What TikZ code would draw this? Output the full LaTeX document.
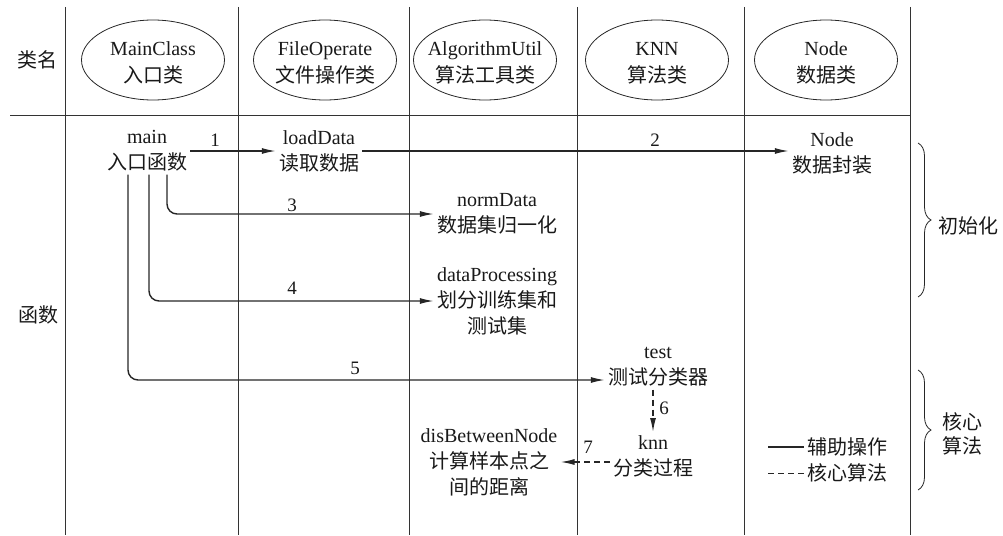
\documentclass[tikz,border=0pt]{standalone}
\usepackage{fontspec}
\setmainfont{Liberation Serif}
\newfontfamily\cjk{Noto Sans CJK SC}
\usetikzlibrary{arrows.meta,shapes.geometric,decorations.pathreplacing}
\newcommand{\zh}[1]{{\cjk #1}}
\begin{document}
\begin{tikzpicture}[x=1pt,y=-1pt,
  every node/.style={font=\fontsize{20}{26}\selectfont, text=black!90, inner sep=3pt},
  cls/.style={ellipse, draw=black!85, minimum width=143pt, minimum height=80pt, inner sep=0pt, align=center, line width=0.8pt},
  clstext/.style={align=center, font=\fontsize{20}{27}\selectfont},
  fn/.style={align=center},
  grid/.style={line width=0.9pt, draw=black!80},
  arr/.style={line width=1.4pt, draw=black!85, -{Latex[length=14pt,width=6pt]}, rounded corners=10pt},
  darr/.style={arr, dash pattern=on 6pt off 4pt},
  num/.style={font=\fontsize{19}{20}\selectfont},
  brc/.style={line width=0.8pt, draw=black!85, decorate, decoration={brace, amplitude=13pt}}
]
\useasboundingbox (0,0) rectangle (1003,535);
% grid
\foreach \x in {65,238,409,577,744,910}{\draw[grid] (\x,7) -- (\x,535);}
\draw[grid] (10,115) -- (910,115);
% row titles
\node (rowcls) at (37,60) {\zh{类名}};
\node (rowfn) at (38,315) {\zh{函数}};
% classes
\node[cls] (c1) at (153,60) {};
\node[cls] (c2) at (325,60) {};
\node[cls] (c3) at (485,60) {};
\node[cls] (c4) at (657,60) {};
\node[cls] (c5) at (826,60) {};
\node[clstext] (t1) at (c1.center) [yshift=-3pt] {MainClass\\\zh{入口类}};
\node[clstext] (t2) at (c2.center) [yshift=-3pt] {FileOperate\\\zh{文件操作类}};
\node[clstext] (t3) at (c3.center) [yshift=-3pt] {AlgorithmUtil\\\zh{算法工具类}};
\node[clstext] (t4) at (c4.center) [yshift=-3pt] {KNN\\\zh{算法类}};
\node[clstext] (t5) at (c5.center) [yshift=-3pt] {Node\\\zh{数据类}};
% functions
\node[fn] (main) at (147,151) {main\\\zh{入口函数}};
\node[fn] (load) at (319,151) {loadData\\\zh{读取数据}};
\node[fn] (nodef) at (832,153) {Node\\\zh{数据封装}};
\node[fn] (norm) at (497,214) {normData\\\zh{数据集归一化}};
\node[fn] (dp) at (497,301) {dataProcessing\\\zh{划分训练集和}\\\zh{测试集}};
\node[fn] (test) at (658,367) {test\\\zh{测试分类器}};
\node[fn] (knn) at (653,456) {knn\\\zh{分类过程}};
\node[fn] (dis) at (489,462) {disBetweenNode\\\zh{计算样本点之}\\\zh{间的距离}};
% connectors
\draw[arr] (main.east) -- (main.east -| load.west);
\draw[arr] (load.east) -- (load.east -| nodef.west);
\draw[arr] ([xshift=20pt]main.south) |- (norm.west);
\draw[arr] ([xshift=2pt]main.south) |- (dp.west);
\draw[arr] ([xshift=-19pt]main.south) |- ([yshift=-13pt]test.west);
\draw[darr] (knn.north |- test.south) -- (knn.north);
\draw[darr] ([yshift=-6pt]knn.west) -- ([yshift=-6pt]knn.west -| dis.east);
% numbers
\node[num] (n1) at (215,140) {1};
\node[num] (n2) at (655,140) {2};
\node[num] (n3) at (292,205) {3};
\node[num] (n4) at (292,288) {4};
\node[num] (n5) at (355,368) {5};
\node[num] (n6) at (664,408) {6};
\node[num] (n7) at (588,447) {7};
% legend
\coordinate (lg1) at (768,447);
\coordinate (lg2) at (768,473);
\node[anchor=west] (leg1) at (804,447) {\zh{辅助操作}};
\node[anchor=west] (leg2) at (804,473) {\zh{核心算法}};
\draw[line width=1.4pt, draw=black!85] (lg1) -- (leg1.west);
\draw[line width=1pt, draw=black!85, dash pattern=on 6pt off 4pt] (lg2) -- (leg2.west);
% braces
\draw[brc] (918,143) -- (918,297);
\draw[brc] (918,370) -- (918,490);
\node[anchor=west] (init) at (935,226) {\zh{初始化}};
\node[align=center, font=\fontsize{20}{24}\selectfont] (core) at (962,434) {\zh{核心}\\\zh{算法}};
\end{tikzpicture}
\end{document}
